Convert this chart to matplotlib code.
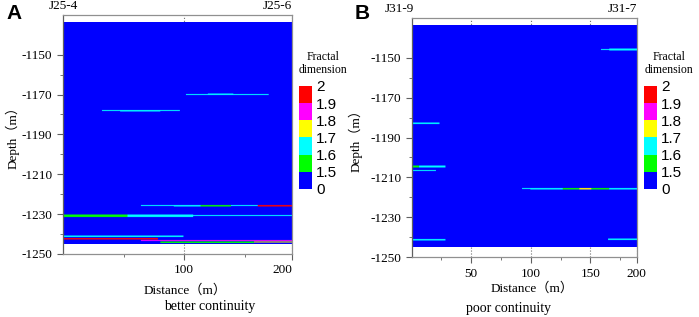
import numpy as np
import matplotlib
matplotlib.use("Agg")
import matplotlib.pyplot as plt
from matplotlib.colors import ListedColormap, BoundaryNorm
from matplotlib.cm import ScalarMappable

plt.rcParams['font.family'] = ['Liberation Serif', 'Noto Sans CJK SC']
plt.rcParams['axes.unicode_minus'] = False

# fractal dimension classes
bounds = [0, 1.5, 1.6, 1.7, 1.8, 1.9, 2.0]
class_colors = ['#0000ff', '#00ff00', '#00ffff', '#ffff00', '#ff00ff', '#ff0000']
bound_labels = ['0', '1.5', '1.6', '1.7', '1.8', '1.9', '2']

# section extent (m)
section_len = 189
depth_top, depth_bot = -1134, -1245

# panel A streaks: depth, start, end, fractal dimension, thickness
a_depth = [-1178.3, -1178.3, -1170.2, -1170.2, -1225.8, -1225.8, -1225.8, -1225.8,
           -1230.8, -1230.8, -1230.8, -1241.2, -1242.4, -1243.2, -1244.0, -1244.0]
a_x0 = [32, 47, 101, 119, 64, 91, 113, 160, 0, 53, 107, 0, 0, 64, 80, 157]
a_x1 = [96, 80, 169, 140, 189, 113, 138, 189, 53, 107, 189, 99, 78, 189, 157, 189]
a_val = [1.65, 1.65, 1.65, 1.65, 1.65, 1.65, 1.55, 1.95,
         1.55, 1.65, 1.65, 1.65, 1.95, 1.85, 1.55, 1.75]
a_thick = [0.5, 0.75, 0.5, 0.75, 0.5, 0.75, 0.75, 0.75,
           1.25, 1.25, 0.5, 0.75, 0.75, 0.5, 0.75, 0.5]

# panel B streaks
b_depth = [-1146.2, -1146.2, -1183.0, -1204.7, -1204.7, -1206.7,
           -1215.8, -1215.8, -1215.8, -1215.8, -1215.8, -1241.4, -1241.2]
b_x0 = [158, 165, 0, 0, 0, 0, 92, 99, 126, 140, 150, 0, 164]
b_x1 = [189, 189, 23, 28, 6, 20, 189, 189, 140, 150, 165, 28, 189]
b_val = [1.65, 1.65, 1.65, 1.65, 1.55, 1.65, 1.65, 1.65, 1.55, 1.75, 1.55, 1.65, 1.65]
b_thick = [0.5, 1.0, 0.75, 1.0, 1.0, 0.5, 0.5, 0.75, 0.75, 0.75, 0.75, 0.75, 0.75]


def build_section(depth, x0, x1, val, thick, dx=1.0, dy=0.25):
    nx = int(round(section_len / dx))
    ny = int(round((depth_top - depth_bot) / dy))
    field = np.zeros((ny, nx))
    xc = (np.arange(nx) + 0.5) * dx
    for d, s, e, v, t in zip(depth, x0, x1, val, thick):
        n = max(1, int(round(t / dy)))
        r0 = int(round((d - depth_bot) / dy - n / 2))
        cols = (xc >= s) & (xc <= e)
        field[r0:r0 + n, cols] = v
    return field


cmap = ListedColormap(class_colors)
norm = BoundaryNorm(bounds, cmap.N)


def draw_panel(ax, field, xticks, xlabels, minor, wells, well_x):
    ax.imshow(field, extent=[0, section_len, depth_bot, depth_top], origin='lower',
              aspect='auto', cmap=cmap, norm=norm, interpolation='hanning',
              interpolation_stage='rgba', zorder=1)
    ax.set_xlim(0, section_len)
    ax.set_ylim(-1250, -1130)
    ax.set_yticks(np.arange(-1250, -1149, 20))
    ax.set_yticks(np.arange(-1240, -1159, 20), minor=True)
    ax.set_xticks(xticks, xlabels)
    ax.set_xticks(minor, minor=True)
    ax.set_axisbelow(True)
    ax.grid(axis='x', linestyle=':', color='#707070', lw=0.8)
    for sp in ax.spines.values():
        sp.set_color('#909090')
        sp.set_linewidth(0.9)
    ax.spines['left'].set_color('#606060')
    ax.tick_params(which='both', direction='out', color='#606060', labelsize=9.5)
    ax.tick_params(which='major', length=4)
    ax.tick_params(which='minor', length=2.5)
    ax.set_ylabel('Depth（m）', fontsize=9.5)
    ax.set_xlabel('Distance（m）', fontsize=9.5)
    ax.text(well_x[0], 1.012, wells[0], transform=ax.transAxes, ha=well_x[2],
            va='bottom', fontsize=9.5)
    ax.text(well_x[1], 1.012, wells[1], transform=ax.transAxes, ha='right',
            va='bottom', fontsize=9.5)


def draw_legend(fig, rect, tx):
    cax = fig.add_axes(rect)
    cb = fig.colorbar(ScalarMappable(norm=norm, cmap=cmap), cax=cax,
                      boundaries=bounds, ticks=bounds, spacing='uniform')
    cb.outline.set_visible(False)
    cax.tick_params(length=0, pad=3)
    cax.set_yticklabels(bound_labels, family='Liberation Sans', fontsize=11)
    fig.text(tx, 0.80, 'Fractal\ndimension', ha='center', va='center',
             fontsize=8.5, linespacing=1.2)


fig = plt.figure(figsize=(6.99, 3.17), dpi=100)

ax_a = fig.add_axes([0.090, 0.199, 0.328, 0.754])
draw_panel(ax_a, build_section(a_depth, a_x0, a_x1, a_val, a_thick),
           [100, 189], ['100', '200'], [50, 150], ['J25-4', 'J25-6'], (0.0, 1.0, 'center'))
ax_a.get_xticklabels()[-1].set_ha('right')
ax_a.yaxis.set_label_coords(-0.19, 0.5)
ax_a.xaxis.set_label_coords(0.533, -0.125)

ax_b = fig.add_axes([0.589, 0.189, 0.322, 0.754])
draw_panel(ax_b, build_section(b_depth, b_x0, b_x1, b_val, b_thick),
           [50, 100, 150, 189], ['50', '100', '150', '200'], [25, 75, 125, 175],
           ['J31-9', 'J31-7'], (0.01, 1.0, 'right'))
ax_b.yaxis.set_label_coords(-0.22, 0.5)
ax_b.xaxis.set_label_coords(0.533, -0.105)

draw_legend(fig, [0.428, 0.404, 0.018, 0.325], 0.462)
draw_legend(fig, [0.921, 0.404, 0.019, 0.325], 0.957)

fig.text(0.300, 0.032, 'better continuity', ha='center', va='center', fontsize=10)
fig.text(0.728, 0.028, 'poor continuity', ha='center', va='center', fontsize=10)
fig.text(0.020, 0.957, 'A', ha='center', va='center', fontsize=15,
         fontweight='bold', family='Liberation Sans')
fig.text(0.518, 0.957, 'B', ha='center', va='center', fontsize=15,
         fontweight='bold', family='Liberation Sans')

fig.savefig('out.png', dpi=100)
